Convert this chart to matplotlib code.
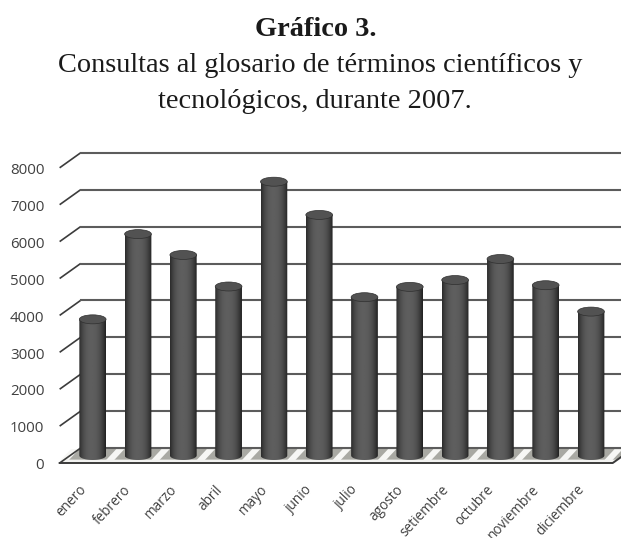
import numpy as np
import matplotlib
matplotlib.use('Agg')
import matplotlib.pyplot as plt
from matplotlib.patches import Ellipse, Polygon

months = ['enero', 'febrero', 'marzo', 'abril', 'mayo', 'junio', 'julio',
          'agosto', 'setiembre', 'octubre', 'noviembre', 'diciembre']
consultas = [3690, 6000, 5435, 4580, 7420, 6520, 4290, 4570, 4755, 5325, 4615, 3900]
y_ticks = [0, 1000, 2000, 3000, 4000, 5000, 6000, 7000, 8000]

W, H = 621, 538
# pixel layout of the pseudo 3d chart
px_per_month = 45.3
px_per_1000 = 36.9
x0_px = 92.7
y0_px = 455.5
depth_x = 10.5 / px_per_month
depth_y = 7.5 / px_per_1000 * 1000
bar_w = 0.59

fig = plt.figure(figsize=(W / 100, H / 100), dpi=100, facecolor='white')
ax = fig.add_axes([0, 0, 1, 1])
ax.axis('off')

n = len(months)
x_left = -0.5 - 0.23
x_right = n - 1 + 0.5 - 0.02
xlim = ((0 - x0_px) / px_per_month, (W - x0_px) / px_per_month)
ylim = ((y0_px - H) / px_per_1000 * 1000, y0_px / px_per_1000 * 1000)

# floor
ax.add_patch(Polygon([(x_left, -depth_y), (x_left + 2 * depth_x, depth_y),
                      (x_right + 2 * depth_x, depth_y), (x_right, -depth_y)],
                     closed=True, fc='#a9a9a3', ec='none', zorder=1))
# white stripes between the bars, front strip
for i in range(-1, n):
    c = i + 0.5
    ax.add_patch(Polygon([(c - 0.22, -depth_y * 0.7), (c + 0.02, depth_y * 0.85),
                          (c + 0.2, depth_y * 0.85), (c - 0.04, -depth_y * 0.7)],
                         closed=True, fc='#f6f6f4', ec='none', zorder=1.2))
ax.add_patch(Polygon([(x_left + 0.02, -depth_y), (x_left + 0.12, -depth_y * 0.55),
                      (x_right + 0.1, -depth_y * 0.55), (x_right, -depth_y)],
                     closed=True, fc='#f2f2f0', ec='none', zorder=1.3))

# gridlines on wall and side
for v in y_ticks:
    ax.plot([x_left, x_left + 2 * depth_x], [v - depth_y, v + depth_y],
            color='#3c3c3c', lw=1.2, zorder=2, solid_capstyle='butt')
    ax.plot([x_left + 2 * depth_x, x_right + 2 * depth_x + 1], [v + depth_y, v + depth_y],
            color='#5c5c5c', lw=1.5, zorder=2)
ax.plot([x_left, x_right, x_right + 2 * depth_x], [-depth_y, -depth_y, depth_y],
        color='#3a3a3a', lw=1.4, zorder=3)

# horizontal shading of a cylinder
t = np.linspace(-1, 1, 64)
shade = 0.37 - 0.22 * np.abs(t) ** 2.4 - 0.02 * t
grad = np.tile(shade, (2, 1))
ell_h = 9.0 / px_per_1000 * 1000

for i, v in enumerate(consultas):
    left, right = i - bar_w / 2, i + bar_w / 2
    # body with a rounded foot
    a = np.linspace(np.pi, 2 * np.pi, 30)
    foot = np.column_stack([i + bar_w / 2 * np.cos(a), ell_h / 2 * np.sin(a)])
    outline = np.vstack([[left, v], foot, [right, v]])
    clip = Polygon(outline, closed=True, transform=ax.transData, fc='none', ec='none')
    ax.add_patch(clip)
    im = ax.imshow(grad, extent=[left, right, -ell_h, v], cmap='gray', vmin=0, vmax=1,
                   aspect='auto', zorder=4, interpolation='bilinear')
    im.set_clip_path(clip)
    ax.add_patch(Ellipse((i, v), bar_w, ell_h, fc='#525252', ec='#2f2f2f', lw=0.5, zorder=5))

ax.set_xlim(xlim)
ax.set_ylim(ylim)

# tick labels
for v in y_ticks:
    ax.annotate(str(v), xy=(x_left, v - depth_y), xytext=(-11, -2), textcoords='offset points',
                ha='right', va='center', fontsize=10.8, family='Open Sans', color='#404040')
for i, m in enumerate(months):
    ax.annotate(m, xy=(i + 0.05, -depth_y), xytext=(-12, -14), textcoords='offset points',
                rotation=47, rotation_mode='anchor', ha='right', va='top',
                fontsize=9.8, family='Open Sans', color='#404040', annotation_clip=False)

# title
serif = 'Liberation Serif'
fig.text(316 / W, 1 - 29 / H, 'Gráfico 3.', ha='center', va='center', fontsize=20.4,
         fontweight='bold', family=serif, color='#1a1a1a')
fig.text(320 / W, 1 - 65 / H, 'Consultas al glosario de términos científicos y', ha='center', va='center',
         fontsize=20.4, family=serif, color='#1a1a1a')
fig.text(315 / W, 1 - 101 / H, 'tecnológicos, durante 2007.', ha='center', va='center',
         fontsize=20.4, family=serif, color='#1a1a1a')

fig.savefig('out.png', dpi=100)
